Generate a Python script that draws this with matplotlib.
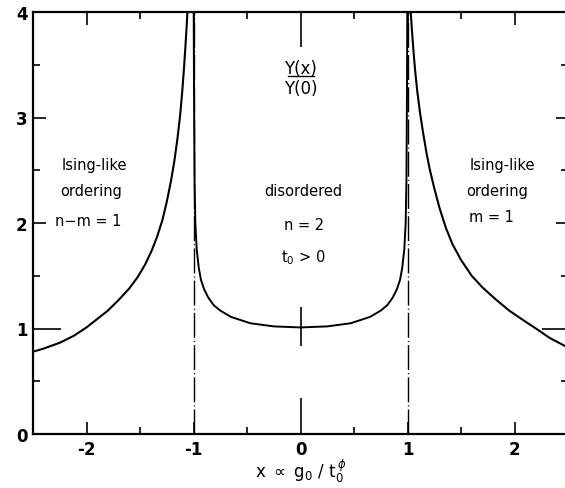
import numpy as np
import matplotlib
matplotlib.use("Agg")
import matplotlib.pyplot as plt

# outer (ordered) branch, left side
left_x = [-2.50, -2.40, -2.25, -2.12, -2.00, -1.90, -1.80, -1.70, -1.60, -1.52,
          -1.45, -1.39, -1.34, -1.29, -1.25, -1.21, -1.18, -1.15, -1.125, -1.105,
          -1.09, -1.075, -1.062, -1.057]
left_y = [0.78, 0.81, 0.865, 0.93, 1.01, 1.09, 1.17, 1.27, 1.38, 1.49,
          1.61, 1.74, 1.87, 2.03, 2.20, 2.40, 2.58, 2.80, 3.02, 3.25,
          3.45, 3.68, 3.90, 4.00]

# outer (ordered) branch, right side
right_x = [1.03, 1.04, 1.055, 1.07, 1.09, 1.115, 1.145, 1.18, 1.21, 1.25,
           1.30, 1.36, 1.42, 1.50, 1.60, 1.70, 1.82, 1.95, 2.08, 2.20,
           2.33, 2.48]
right_y = [4.00, 3.85, 3.64, 3.46, 3.26, 3.06, 2.86, 2.65, 2.50, 2.33,
           2.14, 1.95, 1.80, 1.65, 1.50, 1.39, 1.28, 1.17, 1.08, 1.00,
           0.91, 0.83]

# disordered region between the two singular lines
mid_x = [-0.998, -0.995, -0.99, -0.983, -0.97, -0.95, -0.93, -0.90, -0.86, -0.81,
         -0.75, -0.65, -0.47, -0.25, 0.0, 0.25, 0.47, 0.65, 0.75, 0.81,
         0.86, 0.90, 0.93, 0.95, 0.97, 0.983, 0.99, 0.995, 0.998]
mid_y = [4.00, 3.20, 2.40, 2.00, 1.75, 1.57, 1.46, 1.37, 1.29, 1.22,
         1.17, 1.11, 1.05, 1.02, 1.01, 1.02, 1.05, 1.11, 1.17, 1.22,
         1.29, 1.37, 1.46, 1.57, 1.75, 2.00, 2.40, 3.20, 4.00]

singular_x = [-1, 1]
marker_x, marker_lo, marker_hi = 0.0, 0.83, 1.20

xticks = [-2, -1, 0, 1, 2]
yticks = [0, 1, 2, 3, 4]
xticklabels = ["-2", "-1", "0", "1", "2"]
yticklabels = ["0", "1", "2", "3", "4"]

fig = plt.figure(figsize=(5.65, 4.89), dpi=100)
ax = fig.add_axes([33 / 565, 54 / 489, 535 / 565, 422 / 489])

ax.plot(left_x, left_y, color="black", lw=1.5)
ax.plot(right_x, right_y, color="black", lw=1.5)
ax.plot(mid_x, mid_y, color="black", lw=1.4)
for sx in singular_x:
    ax.axvline(sx, color="black", lw=1.0, linestyle=(0, (18, 2.2, 0.8, 2.2)))
ax.vlines(marker_x, marker_lo, marker_hi, color="black", lw=1.2)

ax.set_xlim(-2.5, 2.5)
ax.set_ylim(0, 4)
ax.spines["right"].set_visible(False)
for s in ["left", "bottom", "top"]:
    ax.spines[s].set_linewidth(1.6)

ax.set_xticks(xticks)
ax.set_xticklabels(xticklabels, fontsize=12, fontweight="bold")
ax.set_yticks(yticks)
ax.set_yticklabels(yticklabels, fontsize=12, fontweight="bold")
ax.set_xticks(np.arange(-2.5, 2.6, 0.5), minor=True)
ax.set_yticks(np.arange(0, 4.1, 0.5), minor=True)
ax.tick_params(which="both", direction="in", top=True, right=True, width=1.2)
ax.tick_params(which="major", length=9, pad=4)
ax.tick_params(which="minor", length=5)

# long marks at x = 0 and y = 1
xt = ax.xaxis.get_major_ticks()[2]
xt.tick1line.set_markersize(26)
xt.tick2line.set_markersize(25)
yt = ax.yaxis.get_major_ticks()[1]
yt.tick1line.set_markersize(20)
yt.tick2line.set_markersize(19)

ax.set_xlabel(r"x $\propto$ g$_0$ / t$_0^{\,\phi}$", fontsize=12)
ax.xaxis.set_label_coords(0.5, -0.052)

txt = dict(ha="center", va="center", fontsize=10.5)
ax.text(-1.93, 2.55, "Ising-like", **txt)
ax.text(-1.96, 2.31, "ordering", **txt)
ax.text(-1.98, 2.02, "n\u2212m = 1", **txt)
ax.text(1.89, 2.55, "Ising-like", **txt)
ax.text(1.84, 2.31, "ordering", **txt)
ax.text(1.78, 2.06, "m = 1", **txt)
ax.text(0.03, 2.31, "disordered", **txt)
ax.text(0.03, 1.99, "n = 2", **txt)
ax.text(0.03, 1.68, r"t$_0$ > 0", **txt)

ax.text(0.0, 3.47, "Y(x)", ha="center", va="center", fontsize=12)
ax.plot([-0.12, 0.13], [3.39, 3.39], color="black", lw=1.0)
ax.text(0.0, 3.28, "Y(0)", ha="center", va="center", fontsize=12)

fig.savefig("out.png", dpi=100)
